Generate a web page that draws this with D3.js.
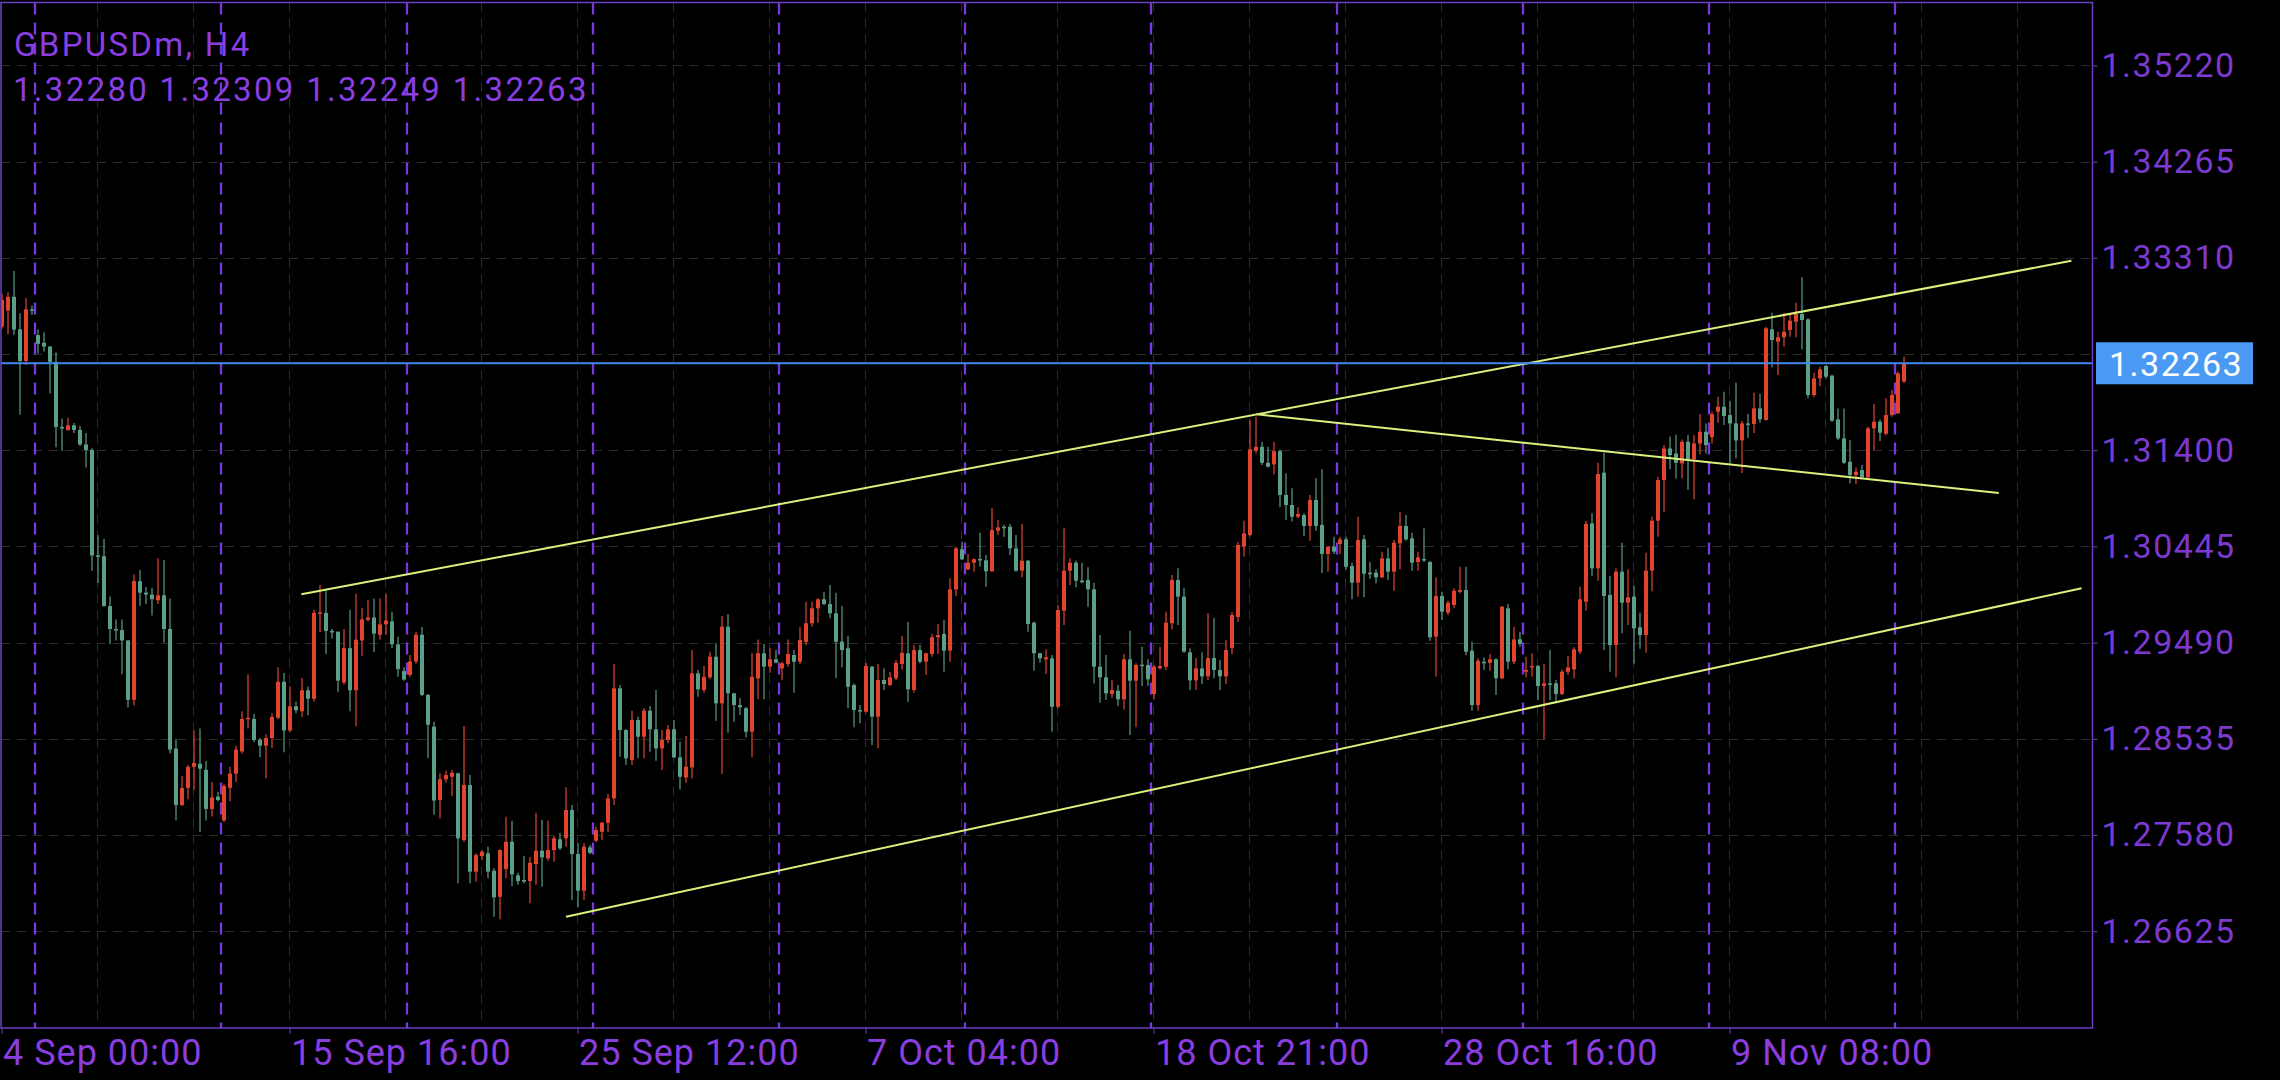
<!DOCTYPE html>
<html><head><meta charset="utf-8">
<script src="https://cdn.jsdelivr.net/npm/d3@7"></script>
<style>html,body{margin:0;padding:0;background:#000;overflow:hidden}</style>
</head><body>
<svg id="chart" width="2280" height="1080"></svg>
<script>
// ---------------- DATA ----------------
const symbolTitle = "GBPUSDm, H4";
const lastOHLC = "1.32280 1.32309 1.32249 1.32263";
const currentPrice = 1.32263;
const xLabelBars = [0, 48, 96, 144, 192, 240, 288];
const xLabels = ["4 Sep 00:00", "15 Sep 16:00", "25 Sep 12:00", "7 Oct 04:00", "18 Oct 21:00", "28 Oct 16:00", "9 Nov 08:00"];
const yGridValues = [1.35220, 1.34265, 1.33310, 1.32355, 1.31400, 1.30445, 1.29490, 1.28535, 1.27580, 1.26625];
const yLabelValues = [1.35220, 1.34265, 1.33310, 1.31400, 1.30445, 1.29490, 1.28535, 1.27580, 1.26625];
const weekStartBars = [6, 37, 68, 99, 130, 161, 192, 223, 254, 285, 316];
const upperChannel = [[49.9, 1.29969], [344.9, 1.33280]];
const lowerChannel = [[94.0, 1.26769], [346.6, 1.30029]];
const declineLine = [[209.1, 1.31756], [332.8, 1.30975]];
// [open, high, low, close] per H4 bar
const ohlc = [
[1.32627,1.32950,1.32608,1.32893],[1.32787,1.32969,1.32551,1.32923],[1.32923,1.33178,1.32543,1.32597],[1.32600,1.32760,1.31753,1.32285],
[1.32285,1.32912,1.32247,1.32798],[1.32798,1.32836,1.32741,1.32790],[1.32543,1.32597,1.32361,1.32456],[1.32467,1.32570,1.32380,1.32429],
[1.32429,1.32435,1.31962,1.32277],[1.32277,1.32369,1.31430,1.31631],[1.31631,1.31715,1.31392,1.31620],[1.31601,1.31723,1.31593,1.31647],
[1.31647,1.31669,1.31571,1.31601],[1.31601,1.31639,1.31441,1.31457],[1.31457,1.31571,1.31229,1.31403],[1.31403,1.31419,1.30203,1.30355],
[1.30355,1.30556,1.30081,1.30347],[1.30347,1.30518,1.29845,1.29853],[1.29853,1.29948,1.29473,1.29625],[1.29625,1.29720,1.29511,1.29614],
[1.29614,1.29720,1.29177,1.29511],[1.29511,1.29519,1.28846,1.28922],[1.28922,1.30165,1.28865,1.30100],[1.30100,1.30214,1.29853,1.29986],
[1.29986,1.30043,1.29872,1.29967],[1.29967,1.30035,1.29758,1.29921],[1.29910,1.30328,1.29872,1.29959],[1.29959,1.30309,1.29492,1.29625],
[1.29625,1.29929,1.28390,1.28428],[1.28439,1.28531,1.27725,1.27877],[1.27877,1.28162,1.27869,1.28048],[1.28048,1.28276,1.27934,1.28257],
[1.28257,1.28618,1.28029,1.28295],[1.28287,1.28637,1.27611,1.28238],[1.28227,1.28314,1.27725,1.27839],[1.27839,1.28105,1.27763,1.27953],
[1.27961,1.28010,1.27915,1.27927],[1.27725,1.28086,1.27706,1.28067],[1.28048,1.28257,1.27915,1.28189],[1.28189,1.28466,1.28105,1.28428],
[1.28409,1.28808,1.28390,1.28732],[1.28732,1.29177,1.28637,1.28744],[1.28732,1.28781,1.28504,1.28523],[1.28523,1.28542,1.28352,1.28466],
[1.28466,1.28580,1.28143,1.28542],[1.28542,1.28789,1.28447,1.28751],[1.28744,1.29245,1.28732,1.29101],[1.29101,1.29188,1.28401,1.28618],
[1.28618,1.29055,1.28599,1.28857],[1.28857,1.28903,1.28789,1.28819],[1.28808,1.29139,1.28751,1.29017],[1.29017,1.29055,1.28770,1.28933],
[1.28933,1.29815,1.28903,1.29785],[1.29785,1.30062,1.29595,1.29790],[1.29785,1.30005,1.29378,1.29606],[1.29606,1.29625,1.29530,1.29598],
[1.29598,1.29600,1.28998,1.29112],[1.29093,1.29625,1.29074,1.29435],[1.29435,1.29815,1.28808,1.29017],[1.29017,1.29975,1.28656,1.29519],
[1.29511,1.29834,1.29359,1.29720],[1.29716,1.29910,1.29701,1.29739],[1.29739,1.29929,1.29397,1.29579],[1.29568,1.29929,1.29519,1.29671],
[1.29671,1.29978,1.29568,1.29709],[1.29701,1.29796,1.29435,1.29473],[1.29473,1.29549,1.29150,1.29226],[1.29207,1.29245,1.29112,1.29123],
[1.29169,1.29367,1.29150,1.29302],[1.29302,1.29595,1.29283,1.29568],[1.29568,1.29644,1.28960,1.28971],[1.28971,1.28979,1.28341,1.28675],
[1.28656,1.28705,1.27782,1.27922],[1.27927,1.28192,1.27745,1.28133],[1.28133,1.28218,1.28099,1.28175],[1.28158,1.28225,1.27967,1.28198],
[1.28192,1.28198,1.27100,1.27547],[1.27530,1.28662,1.27513,1.28076],[1.28076,1.28175,1.27100,1.27216],[1.27216,1.27398,1.27116,1.27381],
[1.27371,1.27431,1.27332,1.27414],[1.27398,1.27464,1.27150,1.27216],[1.27226,1.27249,1.26769,1.26961],[1.26967,1.27438,1.26743,1.27431],
[1.27242,1.27761,1.27150,1.27513],[1.27513,1.27721,1.27073,1.27189],[1.27179,1.27206,1.27086,1.27123],[1.27133,1.27371,1.27100,1.27130],
[1.27123,1.27365,1.26902,1.27305],[1.27292,1.27801,1.27086,1.27424],[1.27424,1.27728,1.27066,1.27358],[1.27348,1.27721,1.27325,1.27431],
[1.27431,1.27570,1.27315,1.27547],[1.27537,1.27603,1.27431,1.27447],[1.27547,1.28053,1.27464,1.27828],[1.27828,1.27877,1.26935,1.27391],
[1.27391,1.27497,1.26862,1.27027],[1.27027,1.27497,1.26935,1.27464],[1.27457,1.27480,1.27391,1.27404],[1.27523,1.27662,1.27507,1.27629],
[1.27612,1.27712,1.27530,1.27702],[1.27702,1.27987,1.27612,1.27944],[1.27944,1.29277,1.27877,1.29036],[1.29036,1.29069,1.28357,1.28622],
[1.28622,1.28629,1.28275,1.28341],[1.28324,1.28814,1.28275,1.28721],[1.28721,1.28754,1.28341,1.28556],[1.28556,1.28838,1.28341,1.28814],
[1.28814,1.28860,1.28407,1.28629],[1.28629,1.29019,1.28317,1.28440],[1.28440,1.28622,1.28225,1.28523],[1.28523,1.28672,1.28490,1.28629],
[1.28629,1.28721,1.28341,1.28351],[1.28351,1.28506,1.28032,1.28158],[1.28152,1.28563,1.28099,1.28258],[1.28251,1.29416,1.28142,1.29185],
[1.29185,1.29218,1.28953,1.29026],[1.29019,1.29258,1.28992,1.29151],[1.29145,1.29400,1.29125,1.29350],[1.29350,1.29483,1.28714,1.28887],
[1.28887,1.29754,1.28185,1.29648],[1.29648,1.29774,1.28595,1.28986],[1.28986,1.28993,1.28704,1.28870],[1.28870,1.28937,1.28771,1.28848],
[1.28838,1.28853,1.28549,1.28605],[1.28605,1.29389,1.28351,1.29151],[1.29135,1.29522,1.28927,1.29384],[1.29384,1.29476,1.28927,1.29251],
[1.29251,1.29433,1.29191,1.29324],[1.29324,1.29416,1.29284,1.29291],[1.29234,1.29300,1.29119,1.29284],[1.29277,1.29522,1.29251,1.29377],
[1.29367,1.29416,1.28992,1.29300],[1.29300,1.29642,1.29277,1.29515],[1.29497,1.29896,1.29463,1.29682],[1.29682,1.29896,1.29648,1.29831],
[1.29831,1.29930,1.29688,1.29920],[1.29920,1.29995,1.29863,1.29873],[1.29873,1.30062,1.29731,1.29781],[1.29781,1.29985,1.29135,1.29499],
[1.29499,1.29853,1.29245,1.29416],[1.29433,1.29555,1.28838,1.29052],[1.29069,1.29085,1.28649,1.28821],[1.28821,1.28870,1.28689,1.28815],
[1.28804,1.29290,1.28794,1.29258],[1.29251,1.29258,1.28473,1.28754],[1.28754,1.29277,1.28440,1.29119],[1.29119,1.29235,1.29019,1.29079],
[1.29069,1.29201,1.29059,1.29145],[1.29135,1.29317,1.29119,1.29290],[1.29277,1.29555,1.29224,1.29389],[1.29384,1.29698,1.28903,1.29026],
[1.29019,1.29466,1.28992,1.29416],[1.29416,1.29466,1.29284,1.29300],[1.29300,1.29389,1.29168,1.29384],[1.29377,1.29576,1.29350,1.29543],
[1.29543,1.29675,1.29377,1.29565],[1.29576,1.29714,1.29201,1.29410],[1.29410,1.30128,1.29300,1.30019],[1.30019,1.30442,1.29953,1.30426],
[1.30416,1.30492,1.30310,1.30317],[1.30217,1.30369,1.30210,1.30283],[1.30283,1.30327,1.30194,1.30317],[1.30320,1.30581,1.30244,1.30307],
[1.30307,1.30360,1.30045,1.30198],[1.30198,1.30823,1.30194,1.30608],[1.30601,1.30707,1.30558,1.30634],[1.30640,1.30657,1.30541,1.30637],
[1.30641,1.30667,1.30360,1.30426],[1.30426,1.30558,1.30194,1.30204],[1.30204,1.30667,1.30138,1.30303],[1.30303,1.30310,1.29598,1.29675],
[1.29688,1.29698,1.29211,1.29384],[1.29384,1.29389,1.29290,1.29334],[1.29324,1.29423,1.29178,1.29344],[1.29334,1.29367,1.28605,1.28853],
[1.28853,1.29863,1.28838,1.29814],[1.29807,1.30625,1.29665,1.30204],[1.30204,1.30327,1.30062,1.30283],[1.30283,1.30303,1.30039,1.30105],
[1.30105,1.30283,1.30078,1.30100],[1.30112,1.30237,1.29847,1.30019],[1.30019,1.30085,1.29085,1.29251],[1.29251,1.29565,1.28893,1.29145],
[1.29145,1.29367,1.28920,1.28986],[1.28980,1.29119,1.28937,1.29019],[1.29012,1.29069,1.28860,1.28927],[1.28927,1.29377,1.28827,1.29324],
[1.29324,1.29608,1.28573,1.29112],[1.29112,1.29284,1.28649,1.29268],[1.29271,1.29449,1.29059,1.29264],[1.29268,1.29324,1.29059,1.29125],
[1.28980,1.29268,1.28927,1.29251],[1.29235,1.29449,1.29224,1.29258],[1.29251,1.29797,1.29218,1.29688],[1.29682,1.30161,1.29622,1.30112],
[1.30112,1.30227,1.29665,1.29946],[1.29946,1.30029,1.29389,1.29400],[1.29393,1.29433,1.29019,1.29115],[1.29115,1.29337,1.29019,1.29234],
[1.29234,1.29393,1.29079,1.29155],[1.29155,1.29784,1.29119,1.29337],[1.29337,1.29734,1.29135,1.29218],[1.29218,1.29317,1.29019,1.29155],
[1.29155,1.29516,1.29079,1.29416],[1.29436,1.29794,1.29377,1.29764],[1.29744,1.30489,1.29695,1.30459],[1.30442,1.30700,1.30343,1.30575],
[1.30558,1.31699,1.30545,1.31408],[1.31395,1.31732,1.31368,1.31434],[1.31434,1.31484,1.31252,1.31275],[1.31275,1.31434,1.31229,1.31236],
[1.31259,1.31484,1.31159,1.31391],[1.31391,1.31408,1.30834,1.30956],[1.30956,1.31172,1.30707,1.30856],[1.30856,1.31022,1.30691,1.30740],
[1.30740,1.30834,1.30724,1.30767],[1.30757,1.30774,1.30548,1.30648],[1.30648,1.30956,1.30502,1.30906],[1.30906,1.31121,1.30601,1.30648],
[1.30658,1.31211,1.30181,1.30370],[1.30370,1.30449,1.30194,1.30442],[1.30442,1.30542,1.30370,1.30393],[1.30469,1.30542,1.30370,1.30515],
[1.30515,1.30542,1.30217,1.30243],[1.30250,1.30283,1.29920,1.30085],[1.30085,1.30740,1.29946,1.30509],[1.30515,1.30558,1.29940,1.30174],
[1.30184,1.30290,1.30125,1.30180],[1.30184,1.30217,1.30078,1.30138],[1.30138,1.30393,1.30128,1.30326],[1.30326,1.30432,1.30112,1.30194],
[1.30194,1.30509,1.30005,1.30482],[1.30475,1.30790,1.30217,1.30648],[1.30648,1.30757,1.30502,1.30515],[1.30525,1.30581,1.30204,1.30283],
[1.30290,1.30393,1.30204,1.30336],[1.30320,1.30625,1.30290,1.30317],[1.30290,1.30300,1.29509,1.29543],[1.29549,1.30138,1.29151,1.29953],
[1.29953,1.29995,1.29714,1.29797],[1.29787,1.29906,1.29764,1.29886],[1.29863,1.30029,1.29830,1.30005],[1.29995,1.30244,1.29979,1.30012],
[1.30012,1.30244,1.29367,1.29400],[1.29410,1.29499,1.28814,1.28870],[1.28870,1.29334,1.28814,1.29310],[1.29300,1.29344,1.29218,1.29297],
[1.29290,1.29377,1.29211,1.29324],[1.29324,1.29334,1.28970,1.29135],[1.29135,1.29853,1.29125,1.29846],[1.29830,1.29873,1.29224,1.29300],
[1.29300,1.29648,1.29277,1.29522],[1.29522,1.29598,1.29449,1.29476],[1.29201,1.29350,1.29145,1.29218],[1.29244,1.29384,1.29151,1.29258],
[1.29258,1.29268,1.28920,1.29059],[1.29059,1.29277,1.28530,1.29085],[1.29085,1.29416,1.28920,1.29082],[1.29085,1.29119,1.28887,1.28980],
[1.28980,1.29224,1.28970,1.29201],[1.29201,1.29357,1.29168,1.29244],[1.29224,1.29443,1.29135,1.29423],[1.29400,1.30045,1.29377,1.29920],
[1.29896,1.30700,1.29807,1.30668],[1.30674,1.30774,1.30151,1.30227],[1.30227,1.31276,1.30104,1.31164],[1.31177,1.31375,1.29416,1.29953],
[1.29963,1.30151,1.29201,1.29466],[1.29466,1.30227,1.29145,1.30194],[1.30194,1.30482,1.29582,1.29886],[1.29886,1.30217,1.29665,1.29940],
[1.29946,1.30052,1.29283,1.29632],[1.29642,1.29787,1.29430,1.29565],[1.29565,1.30383,1.29390,1.30204],[1.30204,1.30740,1.29999,1.30700],
[1.30700,1.31137,1.30542,1.31104],[1.31104,1.31451,1.30790,1.31417],[1.31417,1.31535,1.31210,1.31352],[1.31368,1.31555,1.31120,1.31275],
[1.31269,1.31507,1.31120,1.31484],[1.31484,1.31550,1.31004,1.31309],[1.31309,1.31550,1.30913,1.31467],[1.31467,1.31759,1.31358,1.31583],
[1.31583,1.31666,1.31368,1.31451],[1.31530,1.31782,1.31467,1.31759],[1.31782,1.31931,1.31673,1.31832],[1.31832,1.31981,1.31650,1.31739],
[1.31749,1.31891,1.31253,1.31666],[1.31666,1.32070,1.31319,1.31497],[1.31497,1.31690,1.31173,1.31666],[1.31666,1.31762,1.31524,1.31663],
[1.31660,1.31971,1.31570,1.31815],[1.31815,1.31958,1.31673,1.31706],[1.31700,1.32626,1.31693,1.32610],[1.32600,1.32765,1.32222,1.32494],
[1.32477,1.32577,1.32147,1.32521],[1.32521,1.32765,1.32428,1.32577],[1.32593,1.32759,1.32527,1.32686],[1.32676,1.32864,1.32521,1.32752],
[1.32752,1.33116,1.32399,1.32692],[1.32699,1.32709,1.31915,1.31948],[1.31948,1.32169,1.31925,1.32113],[1.32113,1.32229,1.32034,1.32203],
[1.32236,1.32245,1.32113,1.32130],[1.32140,1.32150,1.31682,1.31692],[1.31706,1.31815,1.31501,1.31517],[1.31517,1.31815,1.31262,1.31275],
[1.31285,1.31501,1.31071,1.31153],[1.31153,1.31229,1.31064,1.31186],[1.31203,1.31252,1.31117,1.31130],[1.31130,1.31633,1.31117,1.31617],
[1.31617,1.31858,1.31401,1.31683],[1.31683,1.31706,1.31491,1.31574],[1.31564,1.31915,1.31547,1.31749],[1.31749,1.31997,1.31732,1.31948],
[1.31766,1.32179,1.31759,1.32163],[1.32080,1.32328,1.32070,1.32263]
];

// ---------------- LAYOUT / STYLE ----------------
const plot = {left: 1, top: 2.5, right: 2092.5, bottom: 1028};
const colUp = "#e2452f", colDown = "#5b9f86";
const purple = "#8a3ee0", purpleAxis = "#6a3fc2", sepColor = "#7a38dc";
const font = "Roboto, 'Noto Sans', sans-serif";

const svg = d3.select("#chart");
svg.append("rect").attr("width", 2280).attr("height", 1080).attr("fill", "#000");

const x = d3.scaleLinear().domain([0, 348]).range([2, 2090]);
const y = d3.scaleLinear().domain([1.26625, 1.35220]).range([931.2, 65.4]);

svg.append("defs").append("clipPath").attr("id", "clip")
  .append("rect").attr("x", plot.left).attr("y", plot.top)
  .attr("width", plot.right - plot.left).attr("height", plot.bottom - plot.top);

const g = svg.append("g").attr("clip-path", "url(#clip)");

// faint horizontal grid
g.selectAll("line.hgrid").data(yGridValues).join("line")
  .attr("x1", plot.left).attr("x2", plot.right)
  .attr("y1", d => Math.round(y(d)) + 0.5).attr("y2", d => Math.round(y(d)) + 0.5)
  .attr("stroke", "#2c2c2c").attr("stroke-width", 1).attr("stroke-dasharray", "9,7");

// faint vertical grid every 16 bars
g.selectAll("line.vgrid").data(d3.range(0, 349, 16)).join("line")
  .attr("x1", d => Math.round(x(d)) - 0.5).attr("x2", d => Math.round(x(d)) - 0.5)
  .attr("y1", plot.top).attr("y2", plot.bottom)
  .attr("stroke", "#2c2c2c").attr("stroke-width", 1).attr("stroke-dasharray", "9,7");

// weekly period separators
g.selectAll("line.sep").data(weekStartBars).join("line")
  .attr("x1", d => x(d - 0.5)).attr("x2", d => x(d - 0.5))
  .attr("y1", plot.top).attr("y2", plot.bottom)
  .attr("stroke", sepColor).attr("stroke-width", 2.3).attr("stroke-dasharray", "12,8");

// candles
const candles = g.selectAll("g.c").data(ohlc).join("g");
candles.append("line")
  .attr("x1", (d, i) => x(i)).attr("x2", (d, i) => x(i))
  .attr("y1", d => y(Math.max(d[1], d[0], d[3]))).attr("y2", d => y(Math.min(d[2], d[0], d[3])))
  .attr("stroke", d => d[3] >= d[0] ? colUp : colDown).attr("stroke-width", 1.2);
candles.append("rect")
  .attr("x", (d, i) => x(i) - 2).attr("width", 4)
  .attr("y", d => y(Math.max(d[0], d[3])))
  .attr("height", d => Math.max(1.5, Math.abs(y(d[0]) - y(d[3]))))
  .attr("fill", d => d[3] >= d[0] ? colUp : colDown);

// trend lines
const line = d3.line().x(d => x(d[0])).y(d => y(d[1]));
[upperChannel, lowerChannel, declineLine].forEach(pts => {
  g.append("path").attr("d", line(pts)).attr("fill", "none")
    .attr("stroke", "#d8f27c").attr("stroke-width", 2);
});

// current price line
g.append("line").attr("x1", plot.left).attr("x2", plot.right)
  .attr("y1", y(currentPrice)).attr("y2", y(currentPrice))
  .attr("stroke", "#3f88f2").attr("stroke-width", 2);

// border
svg.append("rect").attr("x", plot.left).attr("y", plot.top)
  .attr("width", plot.right - plot.left).attr("height", plot.bottom - plot.top)
  .attr("fill", "none").attr("stroke", purpleAxis).attr("stroke-width", 1.5);

// y axis
const yAxis = d3.axisRight(y).tickValues(yLabelValues).tickFormat(d3.format(".5f"))
  .tickSize(5).tickPadding(4).tickSizeOuter(0);
const ya = svg.append("g").attr("transform", `translate(${plot.right},0)`).call(yAxis);
ya.select(".domain").remove();
ya.selectAll("line").attr("stroke", purpleAxis);
ya.selectAll("text").attr("fill", "#7b39cf").attr("font-family", font)
  .attr("font-size", 34).attr("letter-spacing", "1.5px");

// x axis
const xAxis = d3.axisBottom(x).tickValues(xLabelBars).tickFormat((d, i) => xLabels[i])
  .tickSize(6).tickPadding(5).tickSizeOuter(0);
const xa = svg.append("g").attr("transform", `translate(-0.5,${plot.bottom})`).call(xAxis);
xa.select(".domain").remove();
xa.selectAll("line").attr("stroke", purpleAxis);
xa.selectAll("text").attr("fill", purple).attr("font-family", font)
  .attr("font-size", 36).attr("text-anchor", "start").attr("dx", 1).attr("letter-spacing", "1px");

// current price label
const cy = y(currentPrice);
svg.append("rect").attr("x", 2096).attr("y", cy - 21).attr("width", 157).attr("height", 42)
  .attr("fill", "#4a9af5");
svg.append("text").attr("x", 2109).attr("y", cy).attr("dy", "0.36em")
  .attr("fill", "#ffffff").attr("font-family", font).attr("font-size", 34)
  .attr("letter-spacing", "1.5px").text(d3.format(".5f")(currentPrice));

// header
svg.append("text").attr("x", 14).attr("y", 56).attr("fill", purple)
  .attr("font-family", font).attr("font-size", 33).attr("letter-spacing", "2.3px").text(symbolTitle);
svg.append("text").attr("x", 13).attr("y", 101).attr("fill", purple)
  .attr("font-family", font).attr("font-size", 33).attr("letter-spacing", "2.3px").text(lastOHLC);
</script>
</body></html>
